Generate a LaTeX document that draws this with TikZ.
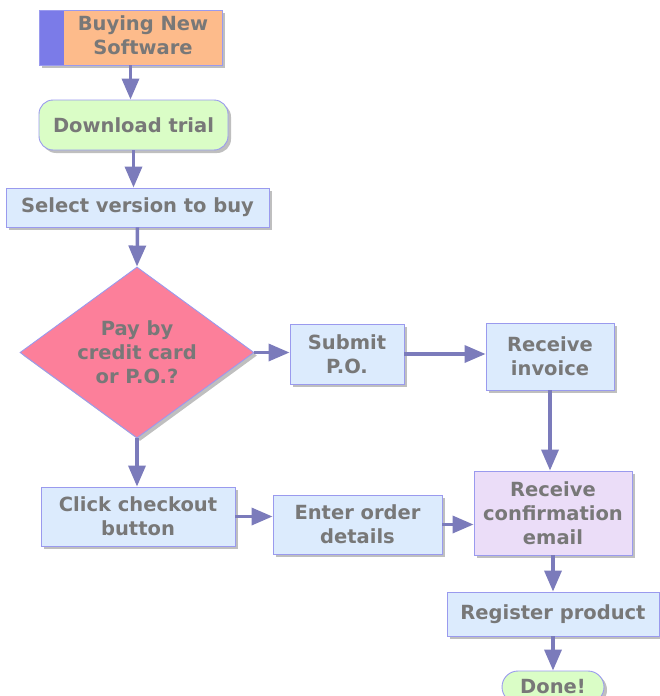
\documentclass[tikz,border=0pt]{standalone}
\usepackage{fontspec}
\setmainfont{DejaVu Sans}
\usetikzlibrary{shapes.geometric,shadows,arrows.meta}
\definecolor{txt}{HTML}{787878}
\definecolor{edge}{HTML}{9A9AEE}
\definecolor{arr}{HTML}{7B7BBB}
\definecolor{boxfill}{HTML}{DCEBFD}
\definecolor{orangef}{HTML}{FDBB8B}
\definecolor{stripe}{HTML}{7B7BE8}
\definecolor{greenf}{HTML}{DAFDC6}
\definecolor{pinkf}{HTML}{FC7F9A}
\definecolor{violetf}{HTML}{EBDDF8}
\tikzset{
  base/.style={draw=edge, line width=0.9pt, text=txt, font=\bfseries\fontsize{19.5}{24}\selectfont, align=center, inner sep=0pt,
     drop shadow={shadow xshift=3pt, shadow yshift=-3pt, fill=black!25, opacity=1}},
  box/.style={base, rectangle, fill=boxfill},
  term/.style={base, rounded corners=14pt, fill=greenf},
  dec/.style={base, diamond, fill=pinkf, aspect=1.368},
  link/.style={draw=arr, line width=3.5pt, -{Triangle[length=21pt,width=17pt]}}
}
\begin{document}
\begin{tikzpicture}[x=1pt,y=-1pt]
\useasboundingbox (0,0) rectangle (660,696);
\clip (0,0) rectangle (660,696);
\node[base, fill=orangef, minimum width=183pt, minimum height=55pt,
  path picture={\fill[stripe] (path picture bounding box.north west) rectangle ([xshift=25pt]path picture bounding box.south west);}]
  (buy) at (130.5,37.5) {\hspace*{25pt}\begin{tabular}{@{}c@{}}Buying New\\Software\end{tabular}};
\node[term, minimum width=189pt, minimum height=50pt] (dl) at (133.5,125) {Download trial};
\node[box, minimum width=263pt, minimum height=39pt] (sel) at (137.5,207.5) {Select version to buy};
\node[dec, minimum width=234pt, minimum height=171pt] (pay) at (137,352.5) {Pay by\\credit card\\or P.O.?};
\node[box, minimum width=114pt, minimum height=60pt] (sub) at (347,354) {Submit\\P.O.};
\node[box, minimum width=128pt, minimum height=67pt] (inv) at (550,356.5) {Receive\\invoice};
\node[box, minimum width=194pt, minimum height=59pt] (click) at (138,516.5) {Click checkout\\button};
\node[box, minimum width=169pt, minimum height=59pt] (enter) at (357.5,524.5) {Enter order\\details};
\node[box, fill=violetf, minimum width=158pt, minimum height=84pt] (conf) at (553,513) {Receive\\confirmation\\email};
\node[box, minimum width=212pt, minimum height=44pt] (reg) at (553,614) {Register product};
\node[term, minimum width=102pt, minimum height=32pt, rounded corners=16pt] (done) at (553,687) {Done!};
\draw[link] (buy.south) -- (buy.south |- dl.north);
\draw[link] (dl.south) -- (dl.south |- sel.north);
\draw[link] (sel.south) -- (pay.north);
\draw[link] (pay.east) -- (sub.west |- pay.east);
\draw[link] (sub.east) -- (inv.west |- sub.east);
\draw[link] (pay.south) -- (pay.south |- click.north);
\draw[link] (click.east) -- (enter.west |- click.east);
\draw[link] (enter.east) -- (conf.west |- enter.east);
\draw[link] (inv.south) -- (inv.south |- conf.north);
\draw[link] (conf.south) -- (reg.north);
\draw[link] (reg.south) -- (done.north);
\end{tikzpicture}
\end{document}
